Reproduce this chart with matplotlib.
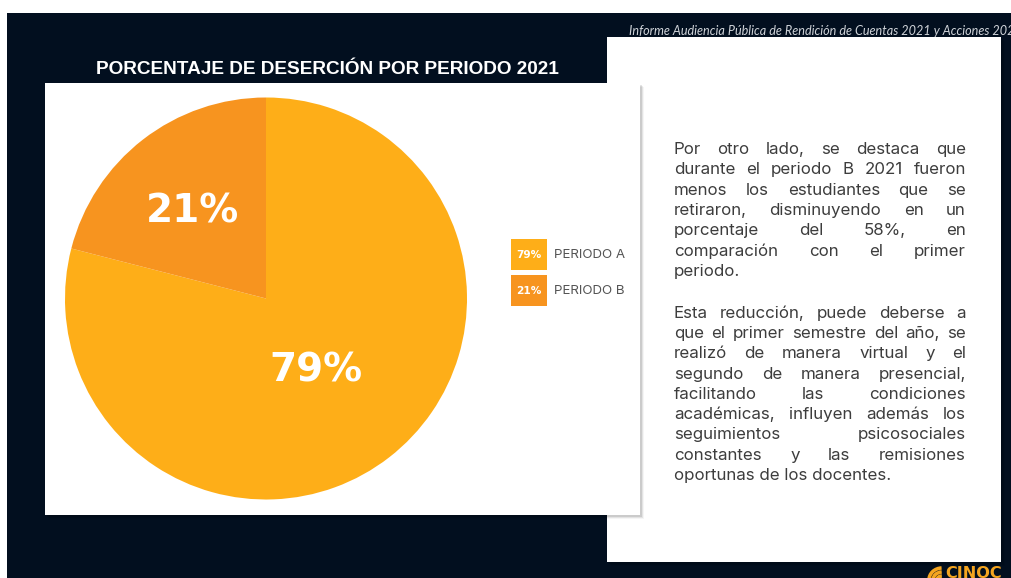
#!/usr/bin/env python3
"""Slide-style pie chart: dropout percentage per period, with a side text panel."""

import matplotlib as mpl

mpl.use("Agg")

import matplotlib.pyplot as plt
import numpy as np
from matplotlib.patches import Arc, Rectangle

W, H, DPI = 1012, 578, 100

# data
periods = ["PERIODO A", "PERIODO B"]
shares = [79, 21]
pct_labels = ["79%", "21%"]

TITLE = "PORCENTAJE DE DESERCIÓN POR PERIODO 2021"
HEADER = "Informe Audiencia Pública de Rendición de Cuentas 2021 y Acciones 2022"
PARAGRAPHS = [
    [
        "Por otro lado, se destaca que",
        "durante el periodo B 2021 fueron",
        "menos los estudiantes que se",
        "retiraron, disminuyendo en un",
        "porcentaje del 58%, en",
        "comparación con el primer",
        "periodo.",
    ],
    [
        "Esta reducción, puede deberse a",
        "que el primer semestre del año, se",
        "realizó de manera virtual y el",
        "segundo de manera presencial,",
        "facilitando las condiciones",
        "académicas, influyen además los",
        "seguimientos psicosociales",
        "constantes y las remisiones",
        "oportunas de los docentes.",
    ],
]

BG = "#020f1f"
COLORS = ["#feae18", "#f7941f"]
LOGO = "#f5a51f"
TEXT = "#3d3d3d"
LINE_H = 20.3


def px_axes(fig, x0, y0, x1, y1):
    return fig.add_axes([x0 / W, 1 - y1 / H, (x1 - x0) / W, (y1 - y0) / H])


def box(ax, x0, y0, x1, y1, z=2):
    for i, a in enumerate([0.10, 0.07, 0.04]):
        ax.add_patch(Rectangle((x0 + 2 + i, y0 + 2 + i), x1 - x0, y1 - y0,
                               color="black", alpha=a, lw=0, zorder=z - 0.5))
    ax.add_patch(Rectangle((x0, y0), x1 - x0, y1 - y0, color="white", lw=0, zorder=z))


def justified(fig, ax, lines, x0, x1, y, size):
    # last line of each paragraph stays left-aligned
    renderer = fig.canvas.get_renderer()
    kw = dict(fontsize=size, color=TEXT, family="Inter", va="baseline", zorder=5)
    for i, line in enumerate(lines):
        if i == len(lines) - 1:
            ax.text(x0, y, line, ha="left", **kw)
            y += LINE_H
            continue
        words = line.split()
        widths = []
        for w in words:
            t = ax.text(0, 0, w, **kw)
            widths.append(t.get_window_extent(renderer).width)
            t.remove()
        gap = (x1 - x0 - sum(widths)) / max(len(words) - 1, 1)
        x = x0
        for w, wd in zip(words, widths):
            ax.text(x, y, w, ha="left", **kw)
            x += wd + gap
        y += LINE_H
    return y


def main():
    fig = plt.figure(figsize=(W / DPI, H / DPI), dpi=DPI)
    fig.patch.set_facecolor("white")
    ax = fig.add_axes([0, 0, 1, 1])
    ax.set_xlim(0, W)
    ax.set_ylim(H, 0)
    ax.axis("off")

    ax.add_patch(Rectangle((7, 13), W, H, color=BG, lw=0, zorder=0))
    ax.text(629, 31, HEADER, fontsize=9.1, style="italic", color="#cfd3d8",
            family="Lato", va="center", ha="left", zorder=3)

    # text panel sits behind the chart card
    box(ax, 607, 37, 1001, 562, z=1)
    box(ax, 45, 83, 640, 515, z=2)

    ax.text(327, 69, TITLE, fontsize=13.7, fontweight="bold", color="white",
            family="Liberation Sans", ha="center", va="center", zorder=3)

    y = justified(fig, ax, PARAGRAPHS[0], 674, 966, 154, 12.2)
    justified(fig, ax, PARAGRAPHS[1], 674, 966, y + 21.5, 12.2)

    # legend
    for i, (name, lab, c) in enumerate(zip(periods, pct_labels, COLORS)):
        top = 239 + i * 36
        ax.add_patch(Rectangle((511, top), 36, 31, color=c, lw=0, zorder=4))
        ax.text(529, top + 16, lab, fontsize=7.6, fontweight="bold", color="white",
                family="DejaVu Sans", ha="center", va="center", zorder=5)
        ax.text(554, top + 16, name, fontsize=9.6, color="#555555",
                family="Inter", ha="left", va="center", zorder=5)

    # CINOC logo, cut by the bottom edge as in the slide
    ax.text(945, 578.5, "CINOC", fontsize=11.6, fontweight="bold", color=LOGO,
            family="DejaVu Sans", ha="left", va="baseline", zorder=5)
    for r in (4, 8, 12):
        ax.add_patch(Arc((942, 580), 2 * r + 2, 2 * r, theta1=180, theta2=268,
                         color=LOGO, lw=2.6, zorder=5))

    # pie
    cx, cy, r = 266, 298.5, 201
    pax = px_axes(fig, cx - r, cy - r, cx + r, cy + r)
    wedges, _ = pax.pie(shares, colors=COLORS, startangle=90, counterclock=False,
                        radius=1.0, wedgeprops=dict(linewidth=0))
    pax.set_xlim(-1, 1)
    pax.set_ylim(-1, 1)
    pax.set_aspect("equal")
    pax.axis("off")
    for wdg, lab, dist in zip(wedges, pct_labels, [0.43, 0.57]):
        mid = np.deg2rad((wdg.theta1 + wdg.theta2) / 2)
        pax.text(dist * np.cos(mid) - 0.015, dist * np.sin(mid), lab, fontsize=28,
                 fontweight="bold", color="white", family="DejaVu Sans",
                 ha="center", va="center_baseline")

    fig.savefig("out.png", dpi=DPI, facecolor="white")
    plt.close(fig)


if __name__ == "__main__":
    main()
